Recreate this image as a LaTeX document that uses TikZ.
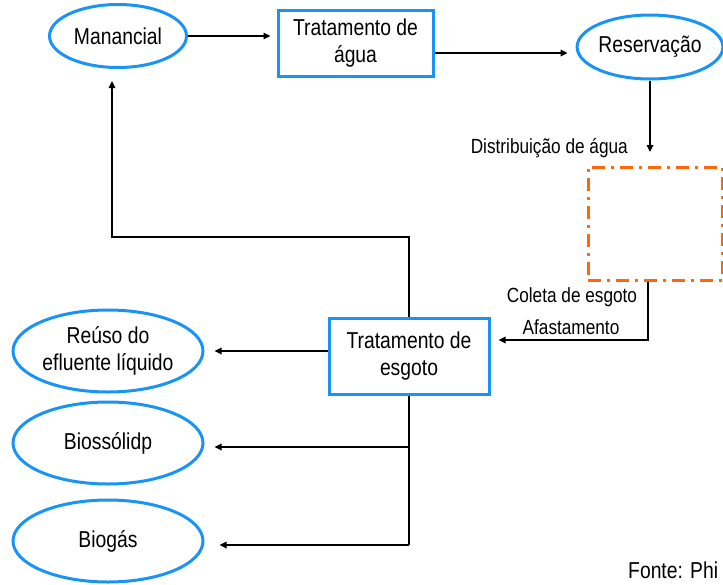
\documentclass[tikz,border=0pt]{standalone}
\usepackage{fontspec}
\setmainfont{Liberation Sans}[FakeStretch=0.84]
\usetikzlibrary{shapes.geometric,arrows.meta}
\definecolor{bblue}{RGB}{25,148,245}
\definecolor{dorange}{RGB}{255,104,10}
\tikzset{
  ell/.style={ellipse,draw=bblue,line width=3pt,inner sep=0pt,align=center,font=\fontsize{23}{27}\selectfont},
  boxx/.style={rectangle,draw=bblue,line width=3pt,inner sep=0pt,align=center,font=\fontsize{23}{27}\selectfont},
  lbl/.style={inner sep=0pt,font=\fontsize{20.5}{22}\selectfont},
  conn/.style={line width=1.6pt},
  arr/.style={conn,-{Triangle[length=7pt,width=6.5pt]}},
  dashdot/.style={draw=dorange,line width=3pt,dash pattern=on 13pt off 6pt on 3pt off 6pt}
}
\begin{document}
\begin{tikzpicture}[x=1pt,y=-1pt]
\useasboundingbox (0,0) rectangle (723,584);
\node[ell,minimum width=137pt,minimum height=63pt] (man) at (118,36) {Manancial};
\node[boxx,minimum width=155pt,minimum height=66pt] (tra) at (355.5,43) {Tratamento de\\água};
\node[ell,minimum width=140pt,minimum height=64pt] (res) at (650,47) {Reservação};
\node[rectangle,dashdot,minimum width=134pt,minimum height=113pt,inner sep=0pt] (dist) at (655,223.5) {};
\node[boxx,minimum width=160pt,minimum height=76pt] (esg) at (409,356) {Tratamento de\\esgoto};
\node[ell,minimum width=190pt,minimum height=82pt] (reu) at (108,351) {Reúso do\\efluente líquido};
\node[ell,minimum width=190pt,minimum height=82pt] (bio) at (108,443) {Biossólidp};
\node[ell,minimum width=190pt,minimum height=82pt] (gas) at (108,541) {Biogás};
\node[lbl,anchor=base east] (ldist) at (628,153) {Distribuição de água};
\node[lbl,anchor=base] (lcol) at (572,302) {Coleta de esgoto};
\node[lbl,anchor=base] (lafa) at (571,334) {Afastamento};
\node[inner sep=0pt,anchor=base west,font=\fontsize{23}{24}\selectfont] (fonte) at (628,578) {Fonte: Phi};
% connectors
\draw[arr,shorten >=6pt] (man.east) -- (man.east -| tra.west);
\draw[arr,shorten >=8pt] ([yshift=-10pt]tra.east) -- ([yshift=-10pt]tra.east -| res.west);
\coordinate (c0) at (650,152);
\draw[arr] (res.south) -- (c0);
\coordinate (c1) at (648,340);
\draw[arr,shorten >=8pt] (dist.south -| c1) -- (c1) -- (c1 -| esg.east);
\coordinate (fb) at (112,237);
\draw[arr,shorten >=12pt] (esg.north) |- (fb) -- (fb |- man.south);
\draw[arr,shorten >=10pt] (esg.west |- reu.east) -- (reu.east);
\coordinate (j1) at (409,447);
\coordinate (j2) at (409,545);
\draw[conn] (esg.south) -- (j2);
\draw[arr,shorten >=10pt] (j1) -- (j1 -| bio.east);
\draw[arr,shorten >=15pt] (j2) -- (j2 -| gas.east);
\end{tikzpicture}
\end{document}
